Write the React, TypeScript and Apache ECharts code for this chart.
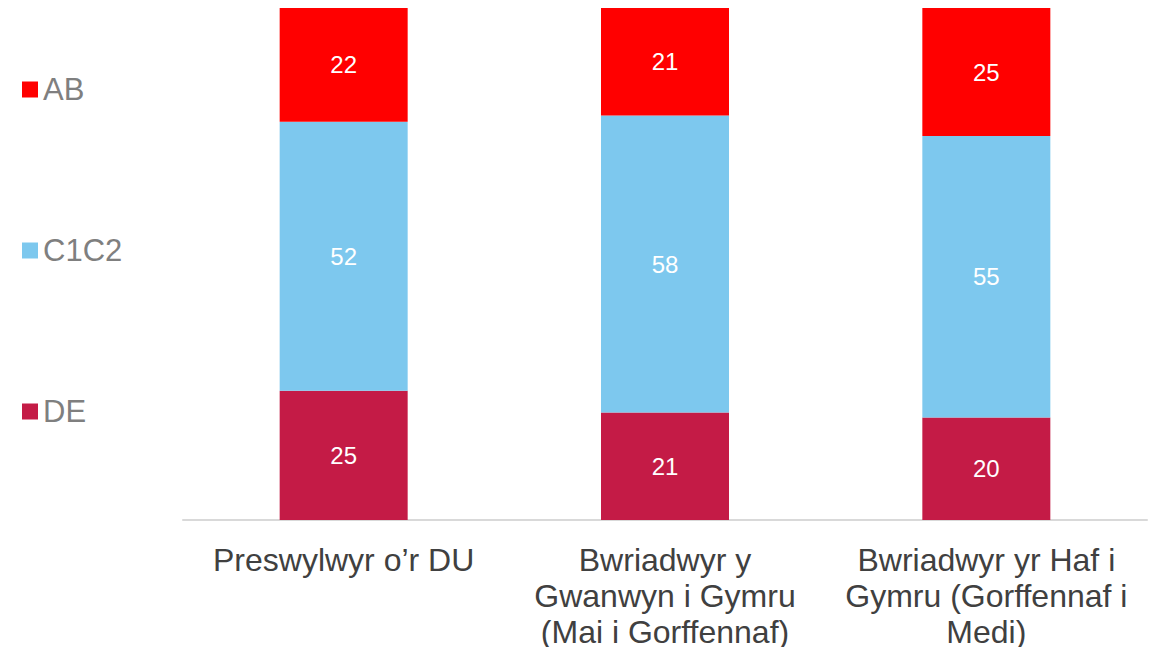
import React, { useEffect, useRef } from "react";
import * as echarts from "echarts";

const categories = [
  "Preswylwyr o’r DU",
  "Bwriadwyr y\nGwanwyn i Gymru\n(Mai i Gorffennaf)",
  "Bwriadwyr yr Haf i\nGymru (Gorffennaf i\nMedi)",
];
const seriesNames = ["DE", "C1C2", "AB"];
const deValues = [25, 21, 20];
const c1c2Values = [52, 58, 55];
const abValues = [22, 21, 25];
const colors = { DE: "#C41B46", C1C2: "#7DC8EE", AB: "#FF0000" };
const legendOrder = ["AB", "C1C2", "DE"];

export default function App() {
  const ref = useRef<HTMLDivElement>(null);
  useEffect(() => {
    if (!ref.current) return;
    const chart = echarts.init(ref.current, undefined, { renderer: "svg" });
    const raw = [deValues, c1c2Values, abValues];
    const totals = categories.map((_, i) => raw.reduce((s, arr) => s + arr[i], 0));
    const series = seriesNames.map((name, si) => ({
      name,
      type: "bar",
      stack: "total",
      barWidth: 128,
      itemStyle: { color: (colors as any)[name] },
      data: raw[si].map((v, i) => ({ value: (v / totals[i]) * 100, raw: v })),
      label: {
        show: true,
        position: "inside",
        color: "#ffffff",
        fontSize: 24,
        fontFamily: "Liberation Sans, Arial, sans-serif",
        formatter: (p: any) => String(p.data.raw),
      },
    }));
    chart.setOption({
      animation: false,
      grid: { left: 183, right: 6, top: 8, bottom: 127, containLabel: false, outerBoundsMode: "none" },
      legend: {
        data: legendOrder,
        orient: "vertical",
        left: 22,
        top: 74,
        padding: 0,
        itemWidth: 16,
        itemHeight: 16,
        itemGap: 130,
        icon: "rect",
        textStyle: {
          color: "#7F7F7F",
          fontSize: 31,
          fontFamily: "Liberation Sans, Arial, sans-serif",
        },
      },
      xAxis: {
        type: "category",
        data: categories,
        axisLine: { show: true, lineStyle: { color: "#D9D9D9", width: 2 } },
        axisTick: { show: false },
        axisLabel: {
          color: "#404040",
          fontSize: 32,
          lineHeight: 36,
          margin: 22,
          interval: 0,
          fontFamily: "Liberation Sans, Arial, sans-serif",
        },
      },
      yAxis: {
        type: "value",
        min: 0,
        max: 100,
        show: false,
      },
      series,
    });
    return () => chart.dispose();
  }, []);
  return <div ref={ref} style={{ width: 1153, height: 647, position: "absolute", left: 0, top: 0 }} />;
}
